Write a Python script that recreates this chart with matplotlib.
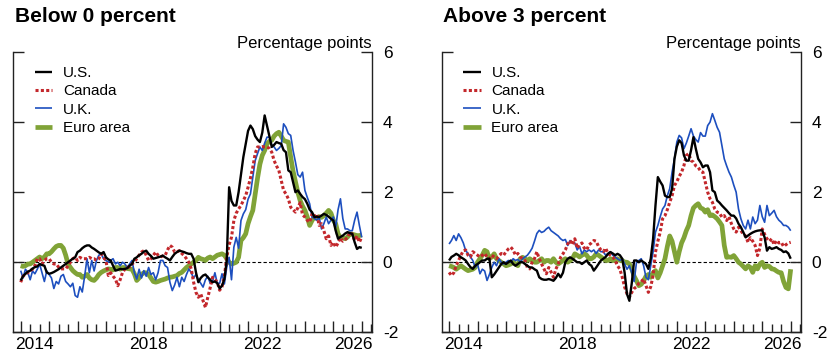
import numpy as np
import pandas as pd
import matplotlib
matplotlib.use('Agg')
import matplotlib.pyplot as plt
from matplotlib.ticker import MultipleLocator, FixedLocator, NullFormatter

plt.rcParams['font.family'] = ['Liberation Sans', 'DejaVu Sans']
plt.rcParams['axes.unicode_minus'] = False

# monthly observations, Jan 2014 .. Jan 2026
dates = pd.date_range('2014-01-01', periods=145, freq='MS')
t = dates.year + (dates.month - 1) / 12.0

panel_titles = ['Below 0 percent', 'Above 3 percent']
series_names = ['U.S.', 'Canada', 'U.K.', 'Euro area']
year_labels = ['2014', '2018', '2022', '2026']
year_label_pos = [2014.5, 2018.5, 2022.5, 2025.72]
y_ticks = [-2, 0, 2, 4, 6]

# ---- left panel: below 0 percent ----
below_us = [
    -0.52, -0.40, -0.33, -0.27, -0.24, -0.18, -0.14, -0.12, -0.05, -0.08, -0.10, -0.29,
    -0.33, -0.31, -0.28, -0.24, -0.20, -0.15, -0.10, -0.05, 0.00, 0.05, 0.10, 0.14,
    0.29, 0.33, 0.40, 0.45, 0.48, 0.48, 0.42, 0.38, 0.33, 0.28, 0.24, 0.29,
    0.14, 0.08, 0.05, -0.10, -0.24, -0.22, -0.19, -0.20, -0.19, -0.17, -0.10, -0.05,
    0.10, 0.14, 0.20, 0.24, 0.30, 0.33, 0.24, 0.18, 0.10, 0.12, 0.14, 0.16,
    0.19, 0.14, 0.10, 0.05, 0.15, 0.24, 0.29, 0.33, 0.31, 0.29, 0.26, 0.24,
    0.24, 0.10, -0.29, -0.57, -0.45, -0.38, -0.35, -0.43, -0.50, -0.57, -0.55, -0.60,
    -0.75, -0.67, -0.48, 0.05, 2.14, 1.75, 1.62, 1.62, 2.00, 2.50, 3.00, 3.38,
    3.75, 3.90, 3.80, 3.60, 3.50, 3.43, 3.70, 4.19, 3.90, 3.60, 3.29, 3.35,
    3.43, 3.40, 3.38, 3.20, 3.14, 2.62, 2.57, 2.29, 2.00, 2.05, 1.95, 1.86,
    1.80, 1.67, 1.50, 1.43, 1.29, 1.30, 1.29, 1.33, 1.38, 1.35, 1.30, 1.24,
    1.19, 0.90, 0.67, 0.72, 0.76, 0.82, 0.86, 0.83, 0.81, 0.57, 0.38, 0.43,
    0.41,
]
below_ca = [
    -0.57, -0.40, -0.33, -0.30, -0.24, -0.20, -0.10, 0.10, 0.10, -0.05, 0.05, 0.10,
    0.10, 0.00, -0.05, -0.05, -0.14, -0.19, -0.19, -0.19, -0.10, 0.00, 0.10, 0.14,
    0.05, 0.14, 0.10, 0.10, 0.10, 0.14, 0.10, 0.10, 0.05, 0.10, 0.24, 0.14,
    0.05, -0.38, -0.30, -0.40, -0.48, -0.67, -0.50, -0.29, -0.20, -0.14, -0.14, -0.05,
    0.00, 0.10, 0.20, 0.29, 0.33, 0.20, 0.05, 0.10, 0.20, 0.29, 0.20, 0.15,
    0.18, 0.20, 0.35, 0.48, 0.43, 0.29, 0.30, 0.33, 0.25, 0.19, 0.10, 0.00,
    -0.19, -0.57, -0.86, -1.00, -0.90, -1.10, -1.29, -1.00, -0.73, -0.43, -0.50, -0.57,
    -0.80, -0.70, -0.40, 0.14, 0.50, 0.71, 1.19, 1.40, 1.52, 1.62, 1.76, 1.90,
    2.14, 2.40, 2.71, 3.10, 3.29, 3.29, 3.30, 3.29, 3.29, 3.25, 3.14, 2.90,
    2.75, 2.62, 2.33, 2.05, 1.95, 1.81, 1.57, 1.50, 1.43, 1.55, 1.70, 1.35,
    1.29, 1.20, 1.14, 1.38, 1.30, 1.38, 1.05, 1.10, 0.90, 0.67, 0.75, 0.48,
    0.57, 0.43, 0.55, 0.70, 0.60, 0.65, 0.70, 0.86, 0.80, 0.62, 0.75, 0.57,
    0.72,
]
below_uk = [
    -0.24, -0.45, -0.20, -0.29, -0.50, -0.25, -0.33, -0.20, -0.05, -0.30, -0.55, -0.25,
    -0.35, -0.45, -0.75, -0.55, -0.62, -0.40, -0.35, -0.55, -0.62, -0.70, -0.60, -0.95,
    -1.00, -0.70, -0.85, -0.40, 0.10, -0.30, 0.05, -0.25, 0.05, 0.20, 0.24, 0.10,
    0.05, 0.00, 0.05, 0.10, -0.05, 0.00, -0.10, 0.00, -0.05, -0.15, -0.05, 0.05,
    -0.30, -0.48, -0.20, -0.45, -0.24, -0.40, -0.15, -0.35, -0.30, -0.50, -0.30, 0.05,
    0.05, -0.10, -0.15, -0.57, -0.81, -0.65, -0.43, -0.70, -0.43, -0.55, -0.35, -0.19,
    -0.30, -0.45, -0.35, -0.50, -0.60, -0.71, -0.50, -0.40, -0.60, -0.55, -0.30, -0.60,
    -0.60, -0.33, -0.62, -0.14, 0.14, -0.50, 0.43, 0.71, 0.40, 1.19, 1.38, 1.50,
    1.80, 1.95, 2.43, 2.90, 3.10, 3.29, 3.19, 3.40, 3.57, 3.57, 3.35, 3.29,
    3.19, 3.25, 3.33, 3.95, 3.85, 3.67, 3.62, 3.19, 2.86, 2.50, 2.43, 2.57,
    2.05, 1.85, 1.67, 1.29, 1.25, 1.20, 1.29, 0.95, 1.10, 1.29, 1.10, 1.20,
    1.29, 1.00, 1.50, 1.81, 1.25, 0.95, 0.95, 0.90, 0.90, 1.20, 1.43, 1.05,
    0.71,
]
below_ea = [
    -0.10, -0.12, -0.10, -0.05, -0.05, 0.00, 0.05, 0.10, 0.15, 0.10, 0.15, 0.24,
    0.24, 0.30, 0.38, 0.45, 0.48, 0.48, 0.40, 0.20, -0.05, -0.15, -0.24, -0.30,
    -0.35, -0.35, -0.43, -0.40, -0.35, -0.45, -0.50, -0.52, -0.45, -0.35, -0.29, -0.25,
    -0.22, -0.19, -0.20, -0.22, -0.15, -0.15, -0.20, -0.15, -0.15, -0.18, -0.19, -0.20,
    -0.33, -0.52, -0.45, -0.35, -0.30, -0.30, -0.35, -0.45, -0.55, -0.57, -0.55, -0.52,
    -0.50, -0.48, -0.45, -0.43, -0.42, -0.40, -0.38, -0.32, -0.29, -0.22, -0.15, -0.10,
    -0.05, 0.00, 0.05, 0.14, 0.10, 0.08, 0.05, 0.12, 0.15, 0.10, 0.15, 0.20,
    0.22, 0.24, 0.20, 0.10, 0.00, -0.05, -0.03, 0.00, 0.14, 0.62, 0.70, 0.81,
    1.10, 1.30, 1.48, 1.95, 2.40, 2.80, 3.05, 3.19, 3.38, 3.45, 3.48, 3.60,
    3.67, 3.71, 3.60, 3.48, 3.45, 3.43, 3.00, 2.60, 2.30, 2.00, 1.76, 1.60,
    1.48, 1.29, 1.05, 1.19, 1.29, 1.25, 1.30, 1.28, 1.33, 1.40, 1.48, 1.40,
    1.20, 1.10, 0.81, 0.71, 0.70, 0.67, 0.72, 0.81, 0.80, 0.78, 0.76, 0.76,
    0.78,
]

# ---- right panel: above 3 percent ----
above_us = [
    0.05, 0.15, 0.19, 0.24, 0.20, 0.14, 0.10, 0.05, -0.05, -0.14, -0.19, -0.10,
    -0.05, 0.00, 0.05, 0.05, 0.10, 0.10, -0.43, -0.35, -0.25, -0.15, -0.05, 0.00,
    -0.05, 0.00, 0.05, -0.05, -0.10, -0.05, 0.00, 0.00, -0.05, -0.10, -0.15, -0.15,
    -0.20, -0.24, -0.43, -0.48, -0.50, -0.50, -0.48, -0.50, -0.53, -0.45, -0.33, -0.43,
    -0.30, 0.00, 0.10, 0.14, 0.10, 0.05, 0.00, 0.00, -0.05, 0.00, 0.05, -0.05,
    -0.10, -0.24, -0.15, -0.05, 0.05, 0.10, 0.15, 0.24, 0.29, 0.25, 0.20, 0.24,
    0.20, 0.10, -0.30, -0.91, -1.10, -0.60, 0.05, 0.05, 0.00, 0.05, 0.00, -0.05,
    -0.19, 0.10, 0.67, 1.62, 2.43, 2.30, 2.19, 1.90, 1.86, 1.86, 2.10, 2.95,
    3.30, 3.48, 3.40, 3.05, 2.90, 2.90, 3.20, 3.57, 3.24, 2.95, 2.85, 2.71,
    2.76, 2.76, 2.57, 2.05, 2.00, 1.76, 1.70, 1.62, 1.55, 1.48, 1.40, 1.33,
    1.33, 1.25, 1.10, 1.00, 0.86, 0.71, 0.76, 0.81, 0.85, 0.88, 0.90, 0.91,
    0.91, 0.71, 0.33, 0.43, 0.38, 0.40, 0.43, 0.38, 0.35, 0.29, 0.31, 0.25,
    0.10,
]
above_ca = [
    -0.29, -0.38, -0.30, -0.10, 0.05, 0.20, 0.33, 0.35, 0.20, 0.15, 0.30, 0.25,
    0.20, 0.15, 0.20, 0.25, 0.15, 0.10, 0.20, 0.15, 0.10, 0.18, 0.25, 0.20,
    0.30, 0.38, 0.43, 0.35, 0.20, 0.25, 0.15, 0.10, 0.05, -0.15, -0.19, 0.00,
    0.10, 0.30, 0.10, -0.05, -0.19, -0.33, -0.15, -0.28, -0.43, -0.20, -0.05, 0.14,
    0.24, 0.35, 0.52, 0.62, 0.50, 0.67, 0.40, 0.50, 0.55, 0.40, 0.35, 0.50,
    0.55, 0.62, 0.60, 0.45, 0.35, 0.30, 0.40, 0.25, 0.20, 0.15, 0.05, -0.10,
    -0.20, -0.43, -0.71, -0.90, -1.00, -0.86, -0.75, -0.70, -0.60, -0.55, -0.48, -0.67,
    -0.86, -0.70, -0.38, 0.29, 0.60, 0.86, 1.24, 1.33, 1.50, 1.71, 1.90, 2.19,
    2.30, 2.45, 2.57, 2.76, 3.05, 3.10, 2.90, 2.86, 2.75, 2.71, 2.60, 2.57,
    2.29, 2.00, 1.81, 1.71, 1.52, 1.43, 1.40, 1.29, 1.33, 1.19, 1.30, 1.10,
    0.95, 0.86, 1.00, 0.90, 0.80, 0.75, 0.57, 0.70, 0.60, 0.48, 0.19, 0.40,
    0.95, 0.80, 0.67, 0.60, 0.67, 0.50, 0.62, 0.55, 0.57, 0.45, 0.50, 0.55,
    0.57,
]
above_uk = [
    0.52, 0.62, 0.76, 0.62, 0.81, 0.70, 0.55, 0.33, 0.25, 0.15, 0.05, -0.14,
    -0.05, -0.33, -0.20, -0.25, -0.52, -0.35, -0.15, 0.00, -0.10, 0.10, 0.00, -0.05,
    0.00, 0.05, 0.00, 0.10, 0.05, 0.08, 0.00, 0.10, 0.15, 0.20, 0.29, 0.40,
    0.60, 0.82, 0.91, 0.85, 0.88, 0.95, 1.00, 0.90, 0.85, 0.80, 0.75, 0.67,
    0.62, 0.65, 0.48, 0.62, 0.55, 0.55, 0.35, 0.45, 0.24, 0.35, 0.30, 0.35,
    0.30, 0.35, 0.25, 0.35, 0.30, 0.30, 0.20, 0.25, 0.30, 0.20, 0.15, 0.10,
    0.05, 0.10, -0.05, -0.20, -0.10, -0.30, -0.55, 0.00, 0.05, 0.10, -0.10, -0.43,
    -0.50, -0.10, 0.30, 0.86, 1.05, 1.30, 1.52, 1.62, 1.90, 2.10, 2.57, 2.95,
    3.43, 3.62, 3.55, 3.24, 3.40, 3.60, 3.81, 3.60, 3.50, 3.43, 3.70, 3.60,
    3.60, 3.90, 4.00, 4.24, 4.05, 3.85, 3.71, 3.33, 2.95, 2.75, 2.57, 2.43,
    2.20, 2.00, 1.52, 1.24, 1.05, 0.95, 1.20, 0.95, 1.29, 1.10, 1.20, 1.62,
    1.30, 1.14, 1.62, 1.33, 1.40, 1.48, 1.30, 1.20, 1.14, 1.05, 1.05, 1.00,
    0.90,
]
above_ea = [
    -0.10, -0.12, -0.15, -0.20, -0.15, -0.10, -0.15, -0.20, -0.24, -0.22, -0.20, -0.15,
    0.00, 0.10, 0.20, 0.34, 0.30, 0.10, 0.15, 0.24, 0.10, 0.05, 0.00, -0.05,
    -0.10, -0.08, -0.05, 0.00, -0.05, -0.10, 0.10, 0.14, 0.10, 0.05, 0.10, 0.05,
    0.00, 0.00, 0.05, 0.10, 0.00, 0.05, 0.05, 0.00, 0.10, 0.00, -0.05, 0.00,
    0.05, 0.10, 0.00, 0.05, 0.10, 0.24, 0.20, 0.15, 0.20, 0.24, 0.20, 0.10,
    0.10, 0.15, 0.24, 0.20, 0.15, 0.10, 0.05, 0.05, 0.10, 0.05, 0.05, 0.10,
    0.05, 0.05, 0.00, 0.00, -0.05, -0.19, -0.40, -0.53, -0.67, -0.63, -0.53, -0.40,
    -0.35, -0.43, -0.30, -0.24, -0.45, -0.30, -0.10, 0.10, 0.45, 0.75, 0.60, 0.30,
    0.00, 0.30, 0.55, 0.70, 0.90, 1.05, 1.33, 1.55, 1.62, 1.67, 1.55, 1.52,
    1.43, 1.50, 1.33, 1.35, 1.30, 1.24, 1.15, 1.05, 0.48, 0.14, 0.15, 0.14,
    0.19, 0.10, 0.00, -0.05, -0.12, -0.19, -0.10, -0.15, -0.29, -0.10, -0.19, -0.05,
    0.00, -0.15, -0.10, -0.12, -0.19, -0.20, -0.25, -0.29, -0.30, -0.55, -0.72, -0.76,
    -0.20,
]

panels = [
    [below_us, below_ca, below_uk, below_ea],
    [above_us, above_ca, above_uk, above_ea],
]

# style per series: color, width, linestyle, zorder
styles = [
    dict(color='black', lw=1.7, ls='-', zorder=5),
    dict(color='#c3272b', lw=2.2, ls=(0, (1.0, 0.75)), zorder=4),
    dict(color='#1d4fbf', lw=1.2, ls='-', zorder=3),
    dict(color='#80a337', lw=3.4, ls='-', zorder=2),
]

fig = plt.figure(figsize=(8.31, 3.57), dpi=100)
ax_left = fig.add_axes([0.016, 0.0692, 0.4313, 0.7851])
ax_right = fig.add_axes([0.5315, 0.0692, 0.432, 0.7851])
title_x = [0.018, 0.5327]

for ax, data, title, tx in zip([ax_left, ax_right], panels, panel_titles, title_x):
    ax.axhline(0, color='black', lw=0.8, ls=(0, (3, 2)), zorder=1)
    handles = []
    for name, vals, st in zip(series_names, data, styles):
        h, = ax.plot(t, vals, label=name, solid_capstyle='butt',
                     dash_capstyle='butt', **st)
        handles.append(h)

    ax.set_xlim(2013.74, 2026.35)
    ax.set_ylim(-2, 6)

    ax.spines['top'].set_visible(False)
    for s in ['left', 'right', 'bottom']:
        ax.spines[s].set_linewidth(1.0)
        ax.spines[s].set_color('#222222')

    # x axis: year ticks, 4-month minor ticks, labels centered on the year
    ax.xaxis.set_major_locator(MultipleLocator(1))
    ax.xaxis.set_minor_locator(MultipleLocator(1 / 3))
    ax.xaxis.set_major_formatter(NullFormatter())
    ax.tick_params(axis='x', which='major', direction='in', length=8, width=1,
                   color='#222222')
    ax.tick_params(axis='x', which='minor', direction='in', length=6, width=1,
                   color='#222222')
    for lab, xp in zip(year_labels, year_label_pos):
        ax.text(xp, -0.0607, lab, transform=ax.get_xaxis_transform(),
                ha='center', va='baseline', fontsize=12.5)

    # y axis on the right, ticks on both sides
    ax.yaxis.set_major_locator(FixedLocator(y_ticks))
    ax.yaxis.tick_right()
    ax.tick_params(axis='y', which='major', direction='in', length=8, width=1,
                   left=True, right=True, labelleft=False, labelright=True,
                   labelsize=12.5, pad=8, color='#222222')

    ax.text(1.0, 1.013, 'Percentage points', transform=ax.transAxes,
            ha='right', va='baseline', fontsize=12)

    ax.legend(handles=handles, loc='upper left',
              bbox_to_anchor=(0.06, 0.95), frameon=False, fontsize=11,
              handlelength=1.15, handletextpad=0.7, labelspacing=0.28,
              borderpad=0, borderaxespad=0)

    fig.text(tx, 0.9375, title, ha='left', va='baseline', fontsize=15,
             fontweight='bold')

fig.savefig('out.png', dpi=100)
